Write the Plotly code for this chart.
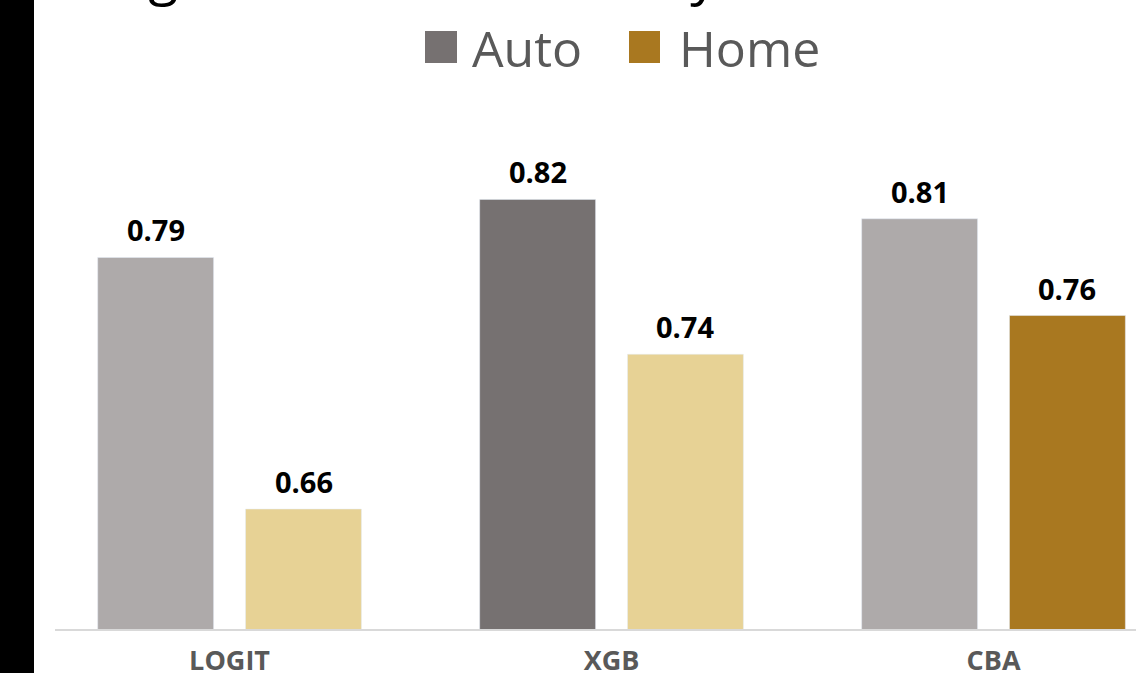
import plotly.graph_objects as go

# Accuracy per model and product line
models = ["LOGIT", "XGB", "CBA"]
auto_values = [0.79, 0.82, 0.81]
home_values = [0.66, 0.74, 0.76]

# Per-bar fills: the highlighted model in each series gets the darker shade
auto_colors = ["#AEAAAA", "#767171", "#AEAAAA"]
home_colors = ["#E7D295", "#E7D295", "#A97820"]
legend_names = ["Auto", "Home"]
legend_colors = ["#767171", "#A97820"]

W, H = 1136, 673
ML, MR, MT, MB = 55, 0, 100, 44
PW, PH = W - ML - MR, H - MT - MB


def px_x(x):
    return (x - ML) / PW


def px_y(y):
    return (H - MB - y) / PH


xs = list(range(len(models)))
fig = go.Figure()
fig.add_trace(go.Bar(x=xs, y=auto_values, name="Auto", marker_color=auto_colors,
                     showlegend=False))
fig.add_trace(go.Bar(x=xs, y=home_values, name="Home", marker_color=home_colors,
                     showlegend=False))

annotations = []
# value labels above each bar
offset = 0.1936
for i, (a, h) in enumerate(zip(auto_values, home_values)):
    for dx, v in ((-offset, a), (offset, h)):
        annotations.append(dict(
            x=i + dx, y=v, xref="x", yref="y", text=f"{v:.2f}", showarrow=False,
            yanchor="bottom", yshift=6,
            font=dict(family="Open Sans", size=29, color="#000000", weight="bold")))

# heading (runs off the top edge)
annotations.append(dict(
    x=px_x(360), y=px_y(12), xref="paper", yref="paper",
    text="Average Predictive Accuracy", showarrow=False,
    xanchor="center", yanchor="bottom",
    font=dict(family="Open Sans", size=55, color="#000000")))

# legend
shapes = []
legend_sq = [(425, 457), (629, 660)]
legend_txt_x = [470, 677]
for name, col, (x0, x1), tx in zip(legend_names, legend_colors, legend_sq, legend_txt_x):
    shapes.append(dict(type="rect", xref="paper", yref="paper",
                       x0=px_x(x0), x1=px_x(x1), y0=px_y(63), y1=px_y(31),
                       fillcolor=col, line=dict(width=0)))
    annotations.append(dict(
        x=px_x(tx), y=px_y(48), xref="paper", yref="paper", text=name,
        showarrow=False, xanchor="left", yanchor="middle",
        font=dict(family="Open Sans", size=50, color="#595959")))

# dark band at the left edge
shapes.append(dict(type="rect", xref="paper", yref="paper",
                   x0=px_x(-5), x1=px_x(34), y0=-1, y1=2,
                   fillcolor="#000000", line=dict(width=0), layer="above"))

fig.update_layout(
    width=W, height=H,
    margin=dict(l=ML, r=MR, t=MT, b=MB, pad=0),
    paper_bgcolor="#FFFFFF", plot_bgcolor="#FFFFFF",
    barmode="group", bargap=0.226, bargroupgap=0.216,
    annotations=annotations, shapes=shapes,
    xaxis=dict(range=[-0.457, 2.373], tickvals=xs, ticktext=models,
               showline=True, linecolor="#D9D9D9", linewidth=2,
               showgrid=False, zeroline=False, ticks="", automargin=False,
               ticklabelstandoff=7,
               tickfont=dict(family="Open Sans", size=27, color="#595959",
                             weight="bold")),
    yaxis=dict(range=[0.598, 0.598 + PH / 1935], visible=False, showgrid=False,
               automargin=False),
)

fig.write_html("out.html")
